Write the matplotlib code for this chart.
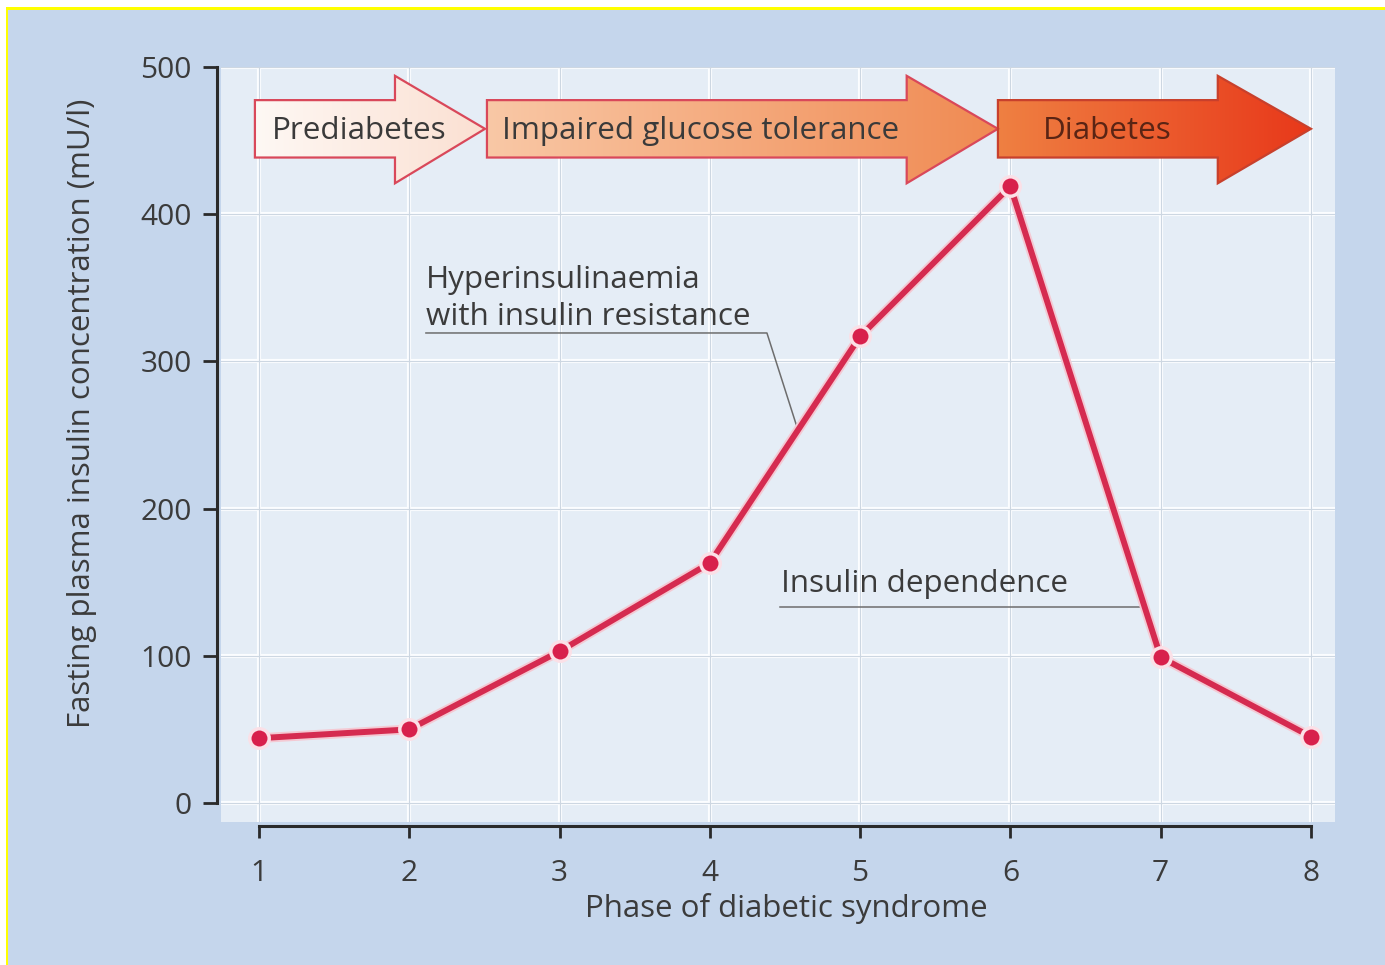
import matplotlib
matplotlib.use("Agg")
import matplotlib.pyplot as plt
import numpy as np
from matplotlib.patches import Polygon, Rectangle
from matplotlib.colors import LinearSegmentedColormap
import matplotlib.patheffects as pe

# ---- data ----
phases = [1, 2, 3, 4, 5, 6, 7, 8]
insulin = [44, 50, 103, 163, 317, 419, 99, 45]
y_ticks = [0, 100, 200, 300, 400, 500]
x_ticks = [1, 2, 3, 4, 5, 6, 7, 8]

stage_labels = ["Prediabetes", "Impaired glucose tolerance", "Diabetes"]
stage_start = [0.973, 2.517, 5.917]
stage_head = [1.905, 5.31, 7.38]
stage_tip = [2.504, 5.917, 8.0]
stage_text_x = [1.087, 2.617, 6.217]
stage_colors = [("#fef8f4", "#fbe0d2"), ("#f9c8a6", "#f08a52"), ("#ef8042", "#e8381a")]
stage_edges = ["#d9485a", "#d9485a", "#c8402c"]
stage_text_colors = ["#3a3a3a", "#3a3a3a", "#5a2414"]

FONT = "Open Sans"
TXT = "#3b3b3b"
BG = "#c5d6ec"
PANEL = "#e5edf6"
FS_TXT = 22.6
FS_LAB = 22.5
FS_TICK = 21.5

fig = plt.figure(figsize=(13.85, 9.65), dpi=100)
fig.patch.set_facecolor("white")
fig.add_artist(Rectangle((8 / 1385, 0), 1, 955 / 965, transform=fig.transFigure,
                         facecolor=BG, edgecolor="none", zorder=-10))
fig.add_artist(Rectangle((6 / 1385, 0), 2 / 1385, 957 / 965, transform=fig.transFigure,
                         facecolor="#ffff00", edgecolor="none", zorder=-9))
fig.add_artist(Rectangle((6 / 1385, 955 / 965), 1, 2.5 / 965, transform=fig.transFigure,
                         facecolor="#ffff00", edgecolor="none", zorder=-9))

ax = fig.add_axes([221.4 / 1385, (965 - 822.1) / 965, (1335 - 221.4) / 1385, (822.1 - 67) / 965])
ax.set_facecolor(PANEL)
xlim = (0.75, 8.16)
ylim = (-13, 500)

# grid
for yt in y_ticks:
    ax.axhline(yt, color="#fbfdff", lw=3, zorder=0)
    ax.axhline(yt, color="#cdd7e2", lw=0.8, zorder=0.1)
for xt in x_ticks:
    ax.axvline(xt, color="#fbfdff", lw=3, zorder=0)
    ax.axvline(xt, color="#cdd7e2", lw=0.8, zorder=0.1)

# stage arrows
yb0, yb1 = 438.5, 477.5
yh0, yh1 = 421.0, 494.0
ymid = (yb0 + yb1) / 2
for i, lab in enumerate(stage_labels):
    x0, xb, xt_ = stage_start[i], stage_head[i], stage_tip[i]
    verts = [(x0, yb0), (xb, yb0), (xb, yh0), (xt_, ymid), (xb, yh1), (xb, yb1), (x0, yb1)]
    poly = Polygon(verts, closed=True, facecolor="none", edgecolor=stage_edges[i],
                   lw=1.6, zorder=3, joinstyle="miter")
    ax.add_patch(poly)
    cmap = LinearSegmentedColormap.from_list("g%d" % i, list(stage_colors[i]))
    grad = np.linspace(0, 1, 256).reshape(1, -1)
    im = ax.imshow(grad, cmap=cmap, aspect="auto", extent=(x0, xt_, yh0, yh1),
                   zorder=2.5, interpolation="bilinear")
    clip = Polygon(verts, closed=True, transform=ax.transData, facecolor="none")
    im.set_clip_path(clip)
    ax.text(stage_text_x[i], ymid - 1.2, lab, fontsize=FS_TXT, family=FONT,
            color=stage_text_colors[i], ha="left", va="center", zorder=4)

# data line
ax.plot(phases, insulin, color="#d52b50", lw=4.3, zorder=5, solid_capstyle="round",
        path_effects=[pe.Stroke(linewidth=7, foreground="#f4c9d3"), pe.Normal()])
ax.plot(phases, insulin, ls="none", marker="o", ms=14, mfc="#d8204c", mec="#fbe0e7",
        mew=2.5, zorder=6)

# annotations
ax.text(2.111, 355.6, "Hyperinsulinaemia", fontsize=FS_TXT, family=FONT, color=TXT,
        ha="left", va="center", zorder=4)
ax.text(2.111, 330.1, "with insulin resistance", fontsize=FS_TXT, family=FONT, color=TXT,
        ha="left", va="center", zorder=4)
ax.plot([2.111, 4.38, 4.58], [319.3, 319.3, 255.4], color="#6d6d6d", lw=1.1, zorder=4)
ax.text(4.473, 148.5, "Insulin dependence", fontsize=FS_TXT, family=FONT, color=TXT,
        ha="left", va="center", zorder=4)
ax.plot([4.466, 6.885], [133.2, 133.2], color="#6d6d6d", lw=1.1, zorder=4)

ax.set_xlim(*xlim)
ax.set_ylim(*ylim)

# spines & ticks
for s in ["top", "right"]:
    ax.spines[s].set_visible(False)
ax.spines["left"].set_position(("outward", 3.5))
ax.spines["bottom"].set_position(("outward", 3))
ax.spines["left"].set_bounds(0, 500)
ax.spines["bottom"].set_bounds(1, 8)
for s in ["left", "bottom"]:
    ax.spines[s].set_linewidth(2.2)
    ax.spines[s].set_color("#2a2a2a")
ax.set_yticks(y_ticks)
ax.set_xticks(x_ticks)
ax.set_yticklabels([str(v) for v in y_ticks])
ax.set_xticklabels([str(v) for v in x_ticks])
ax.tick_params(axis="y", length=10, width=2, color="#2a2a2a", pad=8, labelsize=FS_TICK, labelcolor=TXT)
ax.tick_params(axis="x", length=8.5, width=2, color="#2a2a2a", pad=15, labelsize=FS_TICK, labelcolor=TXT)
for lab in ax.get_xticklabels() + ax.get_yticklabels():
    lab.set_family(FONT)

fig.text(786 / 1385, 1 - 908 / 965, "Phase of diabetic syndrome", fontsize=FS_LAB, family=FONT,
         color=TXT, ha="center", va="center")
fig.text(82 / 1385, 1 - 413 / 965, "Fasting plasma insulin concentration (mU/l)", fontsize=FS_LAB,
         family=FONT, color=TXT, ha="center", va="center", rotation=90)

fig.savefig("out.png", dpi=100, facecolor=fig.get_facecolor())
